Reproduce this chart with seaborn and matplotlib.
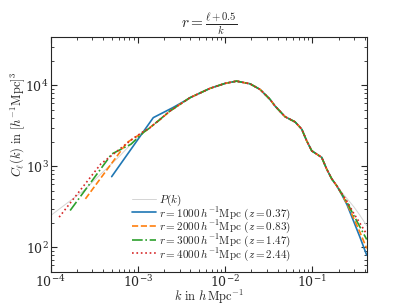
import seaborn as sns
import matplotlib
matplotlib.use("Agg")
import matplotlib.pyplot as plt
import matplotlib.ticker as mticker

# common part of all curves (k in h/Mpc, C_l(k) in (Mpc/h)^3)
k_mid = [1.1e-3, 1.38e-3, 2.33e-3, 3.95e-3, 6.71e-3, 1.0e-2, 1.35e-2, 1.93e-2,
         2.51e-2, 2.87e-2, 3.27e-2, 3.73e-2, 4.86e-2, 6.34e-2, 7.56e-2, 8.62e-2,
         9.84e-2, 0.112, 0.128, 0.146, 0.167, 0.19]
p_mid = [2600, 3010, 4830, 7050, 9200, 10600, 11300, 10470,
         8930, 7740, 6730, 5570, 4110, 3540, 2880, 2065,
         1556, 1420, 1290, 927, 700, 578]

# P(k) ends
pk_low_k = [1e-4, 2.4e-4, 4e-4, 6e-4, 8e-4]
pk_low = [247, 505, 860, 1300, 1800]
pk_tail_k = [0.217, 0.25, 0.3, 0.35, 0.42]
pk_tail = [480, 400, 315, 250, 185]

tail_k = [0.217, 0.25, 0.3, 0.35, 0.42]

# r = 1000
r1_low_k = [5e-4, 1.5e-3, 2.5e-3, 3.5e-3]
r1_low = [747, 4000, 5300, 6500]
r1_tail = [450, 335, 205, 135, 80]
# r = 2000
r2_low_k = [2.5e-4, 7.5e-4, 1.25e-3, 1.75e-3]
r2_low = [397, 1970, 2800, 3700]
r2_tail = [455, 345, 225, 155, 97]
# r = 3000
r3_low_k = [1.67e-4, 5e-4, 8.33e-4, 1.17e-3]
r3_low = [285, 1420, 1880, 2650]
r3_tail = [460, 360, 245, 180, 125]
# r = 4000
r4_low_k = [1.25e-4, 3.75e-4, 6.25e-4, 8.75e-4]
r4_low = [236, 1070, 1650, 2200]
r4_tail = [465, 370, 260, 200, 145]

labels = [r"$r = 1000\,h^{-1}\mathrm{Mpc}$ $(z = 0.37)$",
          r"$r = 2000\,h^{-1}\mathrm{Mpc}$ $(z = 0.83)$",
          r"$r = 3000\,h^{-1}\mathrm{Mpc}$ $(z = 1.47)$",
          r"$r = 4000\,h^{-1}\mathrm{Mpc}$ $(z = 2.44)$"]

sns.set_style("ticks")
plt.rcParams["mathtext.fontset"] = "cm"
plt.rcParams["font.family"] = ["DejaVu Serif"]
plt.rcParams["xtick.direction"] = "in"
plt.rcParams["ytick.direction"] = "in"

fig = plt.figure(figsize=(4.07, 3.05), dpi=100)
ax = fig.add_axes([0.1246, 0.1092, 0.7764, 0.7705])

# P(k)
pk_k = pk_low_k + k_mid + pk_tail_k
pk_v = pk_low + p_mid + pk_tail
sns.lineplot(x=pk_k, y=pk_v, ax=ax, color="0.83", lw=0.7, sort=False,
             estimator=None, label=r"$P(k)$")

colors = sns.color_palette("tab10")
styles = ["-", "--", "-.", ":"]
series = [(r1_low_k, r1_low, r1_tail, 3),
          (r2_low_k, r2_low, r2_tail, 2),
          (r3_low_k, r3_low, r3_tail, 1),
          (r4_low_k, r4_low, r4_tail, 0)]
for i, (lk, lv, tv, skip) in enumerate(series):
    ks = lk + k_mid[skip:] + tail_k
    vs = lv + p_mid[skip:] + tv
    sns.lineplot(x=ks, y=vs, ax=ax, color=colors[i], linestyle=styles[i],
                 lw=1.2, sort=False, estimator=None, label=labels[i])

ax.set_xscale("log")
ax.set_yscale("log")
ax.set_xlim(1e-4, 0.42)
ax.set_ylim(50, 4e4)
ax.tick_params(which="both", top=True, right=True, labelsize=9, pad=1.5)
ax.tick_params(which="major", length=4, width=0.8)
ax.tick_params(which="minor", length=2, width=0.6)
ax.xaxis.set_major_locator(mticker.LogLocator(base=10, numticks=10))
ax.yaxis.set_major_locator(mticker.LogLocator(base=10, numticks=10))

ax.set_xlabel(r"$k\ \mathrm{in}\ h\,\mathrm{Mpc}^{-1}$", fontsize=9, labelpad=-1.5)
ax.set_ylabel(r"$C_\ell(k)\ \mathrm{in}\ [h^{-1}\mathrm{Mpc}]^3$", fontsize=9)
ax.yaxis.set_label_coords(-0.075, 0.626)
ax.set_title(r"$r = \frac{\ell+0.5}{k}$", fontsize=11, pad=-8)

ax.legend(loc="lower left", bbox_to_anchor=(0.235, 0.01), frameon=False,
          fontsize=8, handlelength=2.2, handletextpad=0.25, labelspacing=-0.3,
          borderaxespad=0.2)

fig.savefig("out.png", dpi=100)
